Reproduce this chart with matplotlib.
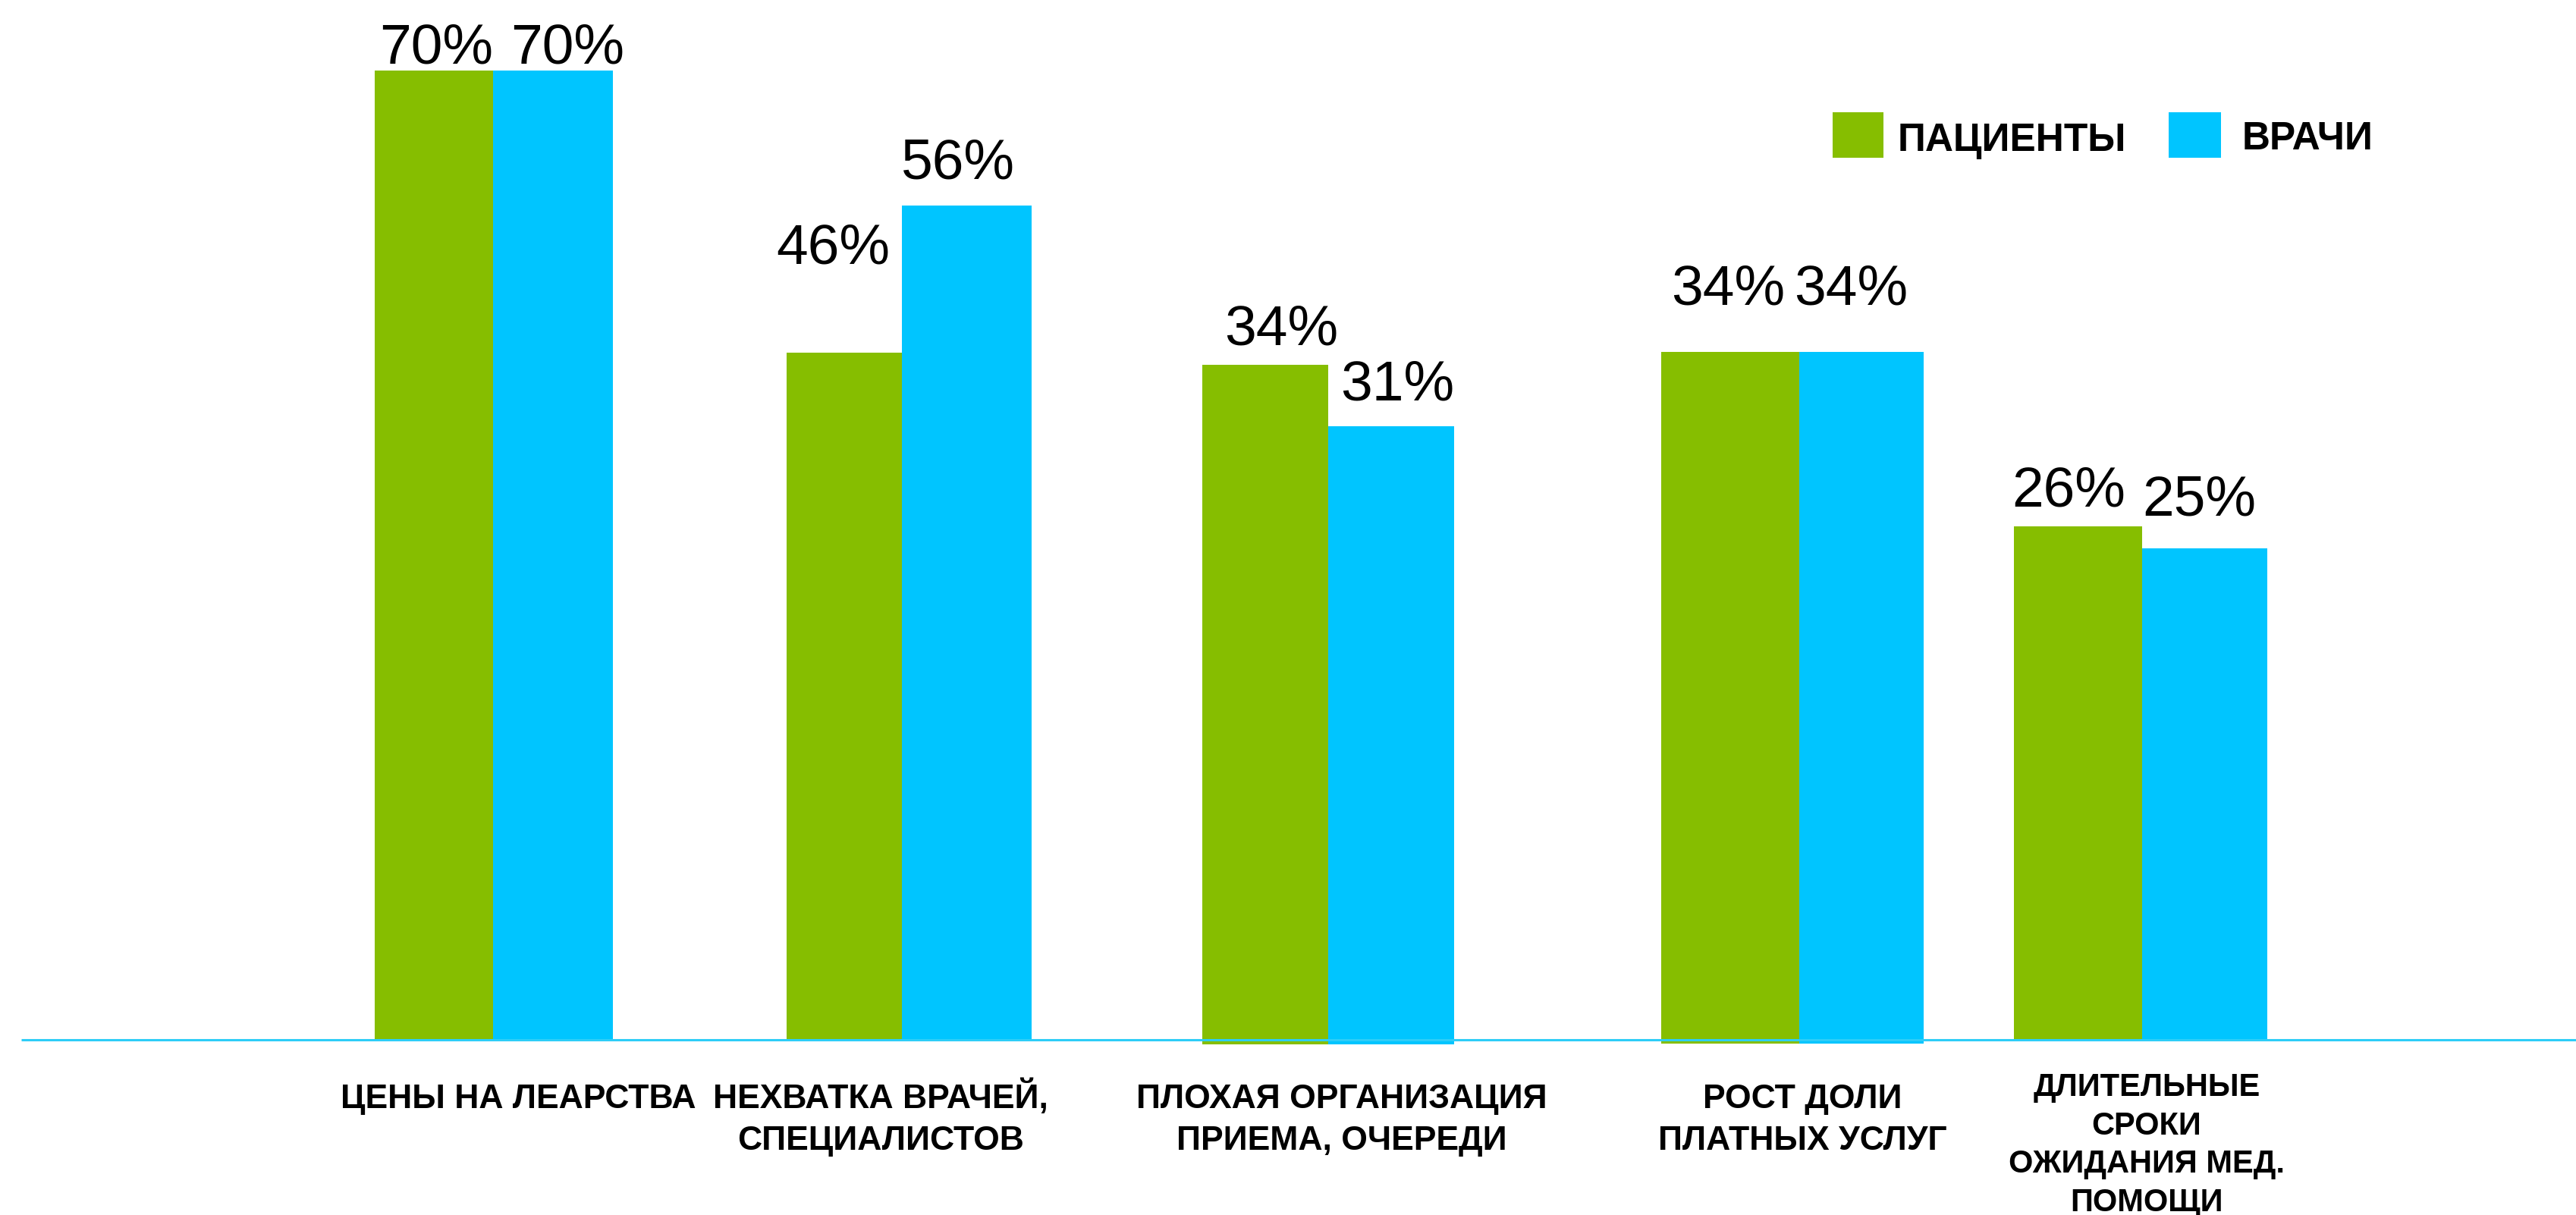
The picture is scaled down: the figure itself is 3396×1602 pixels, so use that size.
import matplotlib
matplotlib.use("Agg")
import matplotlib.pyplot as plt
from matplotlib.patches import Rectangle

plt.rcParams['font.family'] = ['Liberation Sans', 'DejaVu Sans']

# ---------------- data ----------------
categories = [
    ["ЦЕНЫ НА ЛЕАРСТВА"],
    ["НЕХВАТКА ВРАЧЕЙ,", "СПЕЦИАЛИСТОВ"],
    ["ПЛОХАЯ ОРГАНИЗАЦИЯ", "ПРИЕМА, ОЧЕРЕДИ"],
    ["РОСТ ДОЛИ", "ПЛАТНЫХ УСЛУГ"],
    ["ДЛИТЕЛЬНЫЕ", "СРОКИ", "ОЖИДАНИЯ МЕД.", "ПОМОЩИ"],
]
series_names = ["ПАЦИЕНТЫ", "ВРАЧИ"]
# printed values
patients_labels = [70, 46, 34, 34, 26]
doctors_labels = [70, 56, 31, 34, 25]
# bar heights as drawn in the picture (percent scale, 70% bar = 70)
patients_heights = [70, 49.6, 48.75, 49.7, 37.1]
doctors_heights = [70, 60.25, 44.3, 49.7, 35.5]

# ---------------- layout / style ----------------
W, H = 3396, 1602
BASE_PX = 1371            # baseline row (pixels from top)
UNIT = 1278 / 70          # pixels per percent
GREEN = "#86BE00"
BLUE = "#00C5FF"
LINE = "#2ECDF7"

group_split = [650, 1189, 1751, 2372, 2824]
green_w = [156, 152, 166, 182, 169]
blue_w = [158, 171, 166, 164, 165]
bar_bottom = [0, 0, -0.35, -0.3, 0]

# label offsets (dx px, baseline gap px above bar top)
green_lab_off = [(3, 10), (-15, 118), (21, 26), (-3, 62), (-12, 26)]
blue_lab_off = [(19, 10), (-12, 36), (8, 35), (-14, 62), (-7, 43)]

cat_centers = [683, 1161, 1769, 2376, 2830]
cat_first_baseline = [1461, 1461, 1461, 1461, 1445]
cat_step = [55, 55, 55, 55, 50.5]
cat_size = [32, 32, 32, 32, 30]


def y_of(px):
    return (BASE_PX - px) / UNIT


fig = plt.figure(figsize=(W / 100, H / 100), dpi=100)
fig.patch.set_facecolor("white")
ax = fig.add_axes([0, 0, 1, 1])
ax.set_xlim(0, W)
ax.set_ylim(-(H - BASE_PX) / UNIT, BASE_PX / UNIT)
ax.axis("off")

g_left = [s - w for s, w in zip(group_split, green_w)]
g_h = [h - b for h, b in zip(patients_heights, bar_bottom)]
b_h = [h - b for h, b in zip(doctors_heights, bar_bottom)]

bars_p = ax.bar(g_left, g_h, width=green_w, bottom=bar_bottom, align="edge",
                color=GREEN, linewidth=0, zorder=2)
bars_d = ax.bar(group_split, b_h, width=blue_w, bottom=bar_bottom, align="edge",
                color=BLUE, linewidth=0, zorder=2)

# baseline
ax.plot([28, W], [0, 0], color=LINE, lw=2.2, zorder=3, solid_capstyle="butt")

# value labels
for bars, labels, offs in ((bars_p, patients_labels, green_lab_off),
                           (bars_d, doctors_labels, blue_lab_off)):
    for rect, val, (dx, dy) in zip(bars, labels, offs):
        cx = rect.get_x() + rect.get_width() / 2
        top = rect.get_y() + rect.get_height()
        ax.text(cx + dx, top + dy / UNIT, f"{val}%", ha="center", va="baseline",
                fontsize=54, color="black", zorder=4)

# category labels
for lines, cx, yb, step, fs in zip(categories, cat_centers, cat_first_baseline,
                                   cat_step, cat_size):
    for i, line in enumerate(lines):
        ax.text(cx, y_of(yb + i * step), line, ha="center", va="baseline",
                fontsize=fs, fontweight="bold", color="black")

# legend
leg_items = [(2416, 67, 2502, 199, GREEN), (2859, 69, 2956, 197, BLUE)]
for (sx, sw, tx, tb, col), name in zip(leg_items, series_names):
    ax.add_patch(Rectangle((sx, y_of(208)), sw, 60 / UNIT, color=col, lw=0))
    ax.text(tx, y_of(tb), name, ha="left", va="baseline", fontsize=37,
            fontweight="bold", color="black")

fig.savefig("out.png", dpi=100)
